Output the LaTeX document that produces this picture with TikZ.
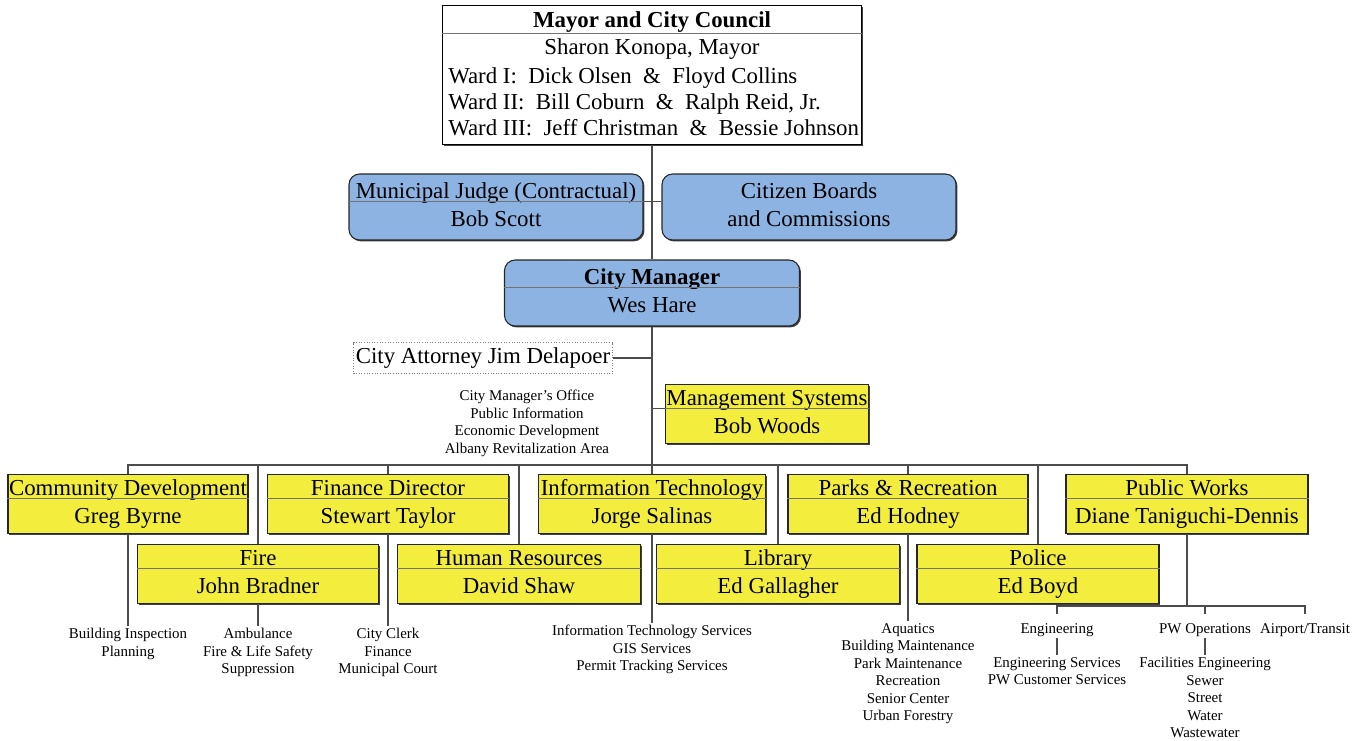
\documentclass[tikz,border=0pt]{standalone}
\usepackage{fontspec}
\setmainfont{Liberation Serif}
\usetikzlibrary{calc,shadows}

\definecolor{deptyellow}{RGB}{243,238,62}
\definecolor{boardblue}{RGB}{141,179,226}

\tikzset{
  boxfont/.style={font=\fontsize{13}{16}\selectfont},
  listfont/.style={font=\fontsize{8.5}{10}\selectfont},
  boxshadow/.style={drop shadow={shadow xshift=0.8pt, shadow yshift=-0.8pt, opacity=1, fill=black!75}},
  dept/.style={boxfont, draw=black!85, line width=0.6pt, fill=deptyellow, inner sep=0pt, align=center,
    minimum width=#1*0.02cm, minimum height=1.18cm, boxshadow},
  board/.style={boxfont, draw=black!85, line width=0.6pt, fill=boardblue, rounded corners=6pt, inner sep=0pt,
    align=center, minimum width=#1*0.02cm, minimum height=1.32cm, boxshadow},
  council/.style={draw=black, line width=0.9pt, fill=white, minimum width=8.38cm, minimum height=2.78cm, boxshadow},
  attorney/.style={boxfont, draw=black!50, densely dotted, line width=0.5pt, inner sep=0pt,
    minimum width=5.18cm, minimum height=0.62cm},
  split/.style={black!55, line width=0.5pt},
  link/.style={black!70, line width=0.6pt},
  sublist/.style={listfont, align=center, anchor=north, inner sep=1pt},
}

\newcommand\splitbox[1]{\draw[split] ([yshift=3pt]#1.west) -- ([yshift=3pt]#1.east);}

\begin{document}
\begin{tikzpicture}[x=0.02cm, y=-0.02cm]
    \useasboundingbox (0,0) rectangle (1371,740);

    %council at the top
        \node[council] (council) at (652,75) {};
        \coordinate (titlebase) at (652,33);
        \node[boxfont] (ctitle) at (652,22) {\textbf{Mayor and City Council}};
        \draw[split] (council.west |- titlebase) -- (council.east |- titlebase);
        \node[boxfont] (mayorname) at (652,49) {Sharon Konopa, Mayor};
        \node[font=\fontsize{13}{14.8}\selectfont, anchor=west, align=left, inner sep=0pt] (wards) at (448,102)
            {Ward I:\ \ Dick Olsen\ \ \&\ \ Floyd Collins\\
             Ward II:\ \ Bill Coburn\ \ \&\ \ Ralph Reid, Jr.\\
             Ward III:\ \ Jeff Christman\ \ \&\ \ Bessie Johnson};

    %blue boxes
        \node[board=294] (judge) at (496,207) {\strut Municipal Judge (Contractual)\\\strut Bob Scott};
        \splitbox{judge}
        \node[board=294] (citizen) at (809,207) {\strut Citizen Boards\\\strut and Commissions};
        \node[board=295] (citymgr) at (652,293) {\strut\textbf{City Manager}\\\strut Wes Hare};
        \splitbox{citymgr}

    %staff of the city manager
        \node[attorney] (attorney) at (483,358) {City Attorney Jim Delapoer};
        \node[sublist] (cmoffice) at (527,388)
            {City Manager's Office\\Public Information\\Economic Development\\Albany Revitalization Area};
        \node[dept=203] (mgmt) at (767,414) {\strut Management Systems\\\strut Bob Woods};
        \splitbox{mgmt}

    %departments, upper row
        \node[dept=240] (commdev) at (128,504) {\strut Community Development\\\strut Greg Byrne};
        \node[dept=241] (finance) at (388,504) {\strut Finance Director\\\strut Stewart Taylor};
        \node[dept=227] (it) at (652,504) {\strut Information Technology\\\strut Jorge Salinas};
        \node[dept=240] (parks) at (908,504) {\strut Parks \& Recreation\\\strut Ed Hodney};
        \node[dept=242] (publicworks) at (1187,504) {\strut Public Works\\\strut Diane Taniguchi-Dennis};

    %departments, lower row
        \node[dept=241] (fire) at (258,574) {\strut Fire\\\strut John Bradner};
        \node[dept=243] (hr) at (519,574) {\strut Human Resources\\\strut David Shaw};
        \node[dept=243] (library) at (778,574) {\strut Library\\\strut Ed Gallagher};
        \node[dept=242] (police) at (1038,574) {\strut Police\\\strut Ed Boyd};

        \foreach \d in {commdev,finance,it,parks,publicworks,fire,hr,library,police}
            {\splitbox{\d}}

    %divisions
        \node[sublist] (inspection) at (128,626) {Building Inspection\\Planning};
        \node[sublist] (firelist) at (258,626) {Ambulance\\Fire \& Life Safety\\Suppression};
        \node[sublist] (financelist) at (388,626) {City Clerk\\Finance\\Municipal Court};
        \node[sublist] (itlist) at (652,623)
            {Information Technology Services\\GIS Services\\Permit Tracking Services};
        \node[sublist] (parkslist) at (908,621)
            {Aquatics\\Building Maintenance\\Park Maintenance\\Recreation\\Senior Center\\Urban Forestry};
        \node[sublist] (engineering) at (1057,621) {Engineering};
        \node[sublist] (pwops) at (1205,621) {PW Operations};
        \node[sublist] (airport) at (1305,621) {Airport/Transit};
        \node[sublist] (englist) at (1057,655) {Engineering Services\\PW Customer Services};
        \node[sublist] (opslist) at (1205,655) {Facilities Engineering\\Sewer\\Street\\Water\\Wastewater};

    %connectors
        \coordinate (bus) at (652,465);
        \coordinate (pwbus) at (1187,606);
        \draw[link] (council.south) -- (citymgr.north);
        \draw[link] ([yshift=3pt]judge.east) -- ([yshift=3pt]citizen.west);
        \draw[link] (attorney.east) -- (attorney.east -| citymgr.south);
        \draw[link] ([yshift=3pt]mgmt.west) -- ([yshift=3pt]mgmt.west -| citymgr.south);
        \draw[link] (citymgr.south) -- (bus);
        \draw[link] (commdev.north) |- (bus) -| (publicworks.north);
        \foreach \d in {fire,finance,hr,it,library,parks,police}
            \draw[link] (\d.north) -- (\d.north |- bus);
        \foreach \d/\l in {commdev/inspection,fire/firelist,finance/financelist,it/itlist,parks/parkslist,
                           engineering/englist,pwops/opslist}
            \draw[link] (\d.south) -- (\l.north);
        \draw[link] (publicworks.south) -- (pwbus);
        \draw[link] ([yshift=4pt]engineering.north) |- (pwbus) -| ([yshift=4pt]airport.north);
        \draw[link] ([yshift=4pt]pwops.north) -- (pwops.north |- pwbus);

\end{tikzpicture}
\end{document}
